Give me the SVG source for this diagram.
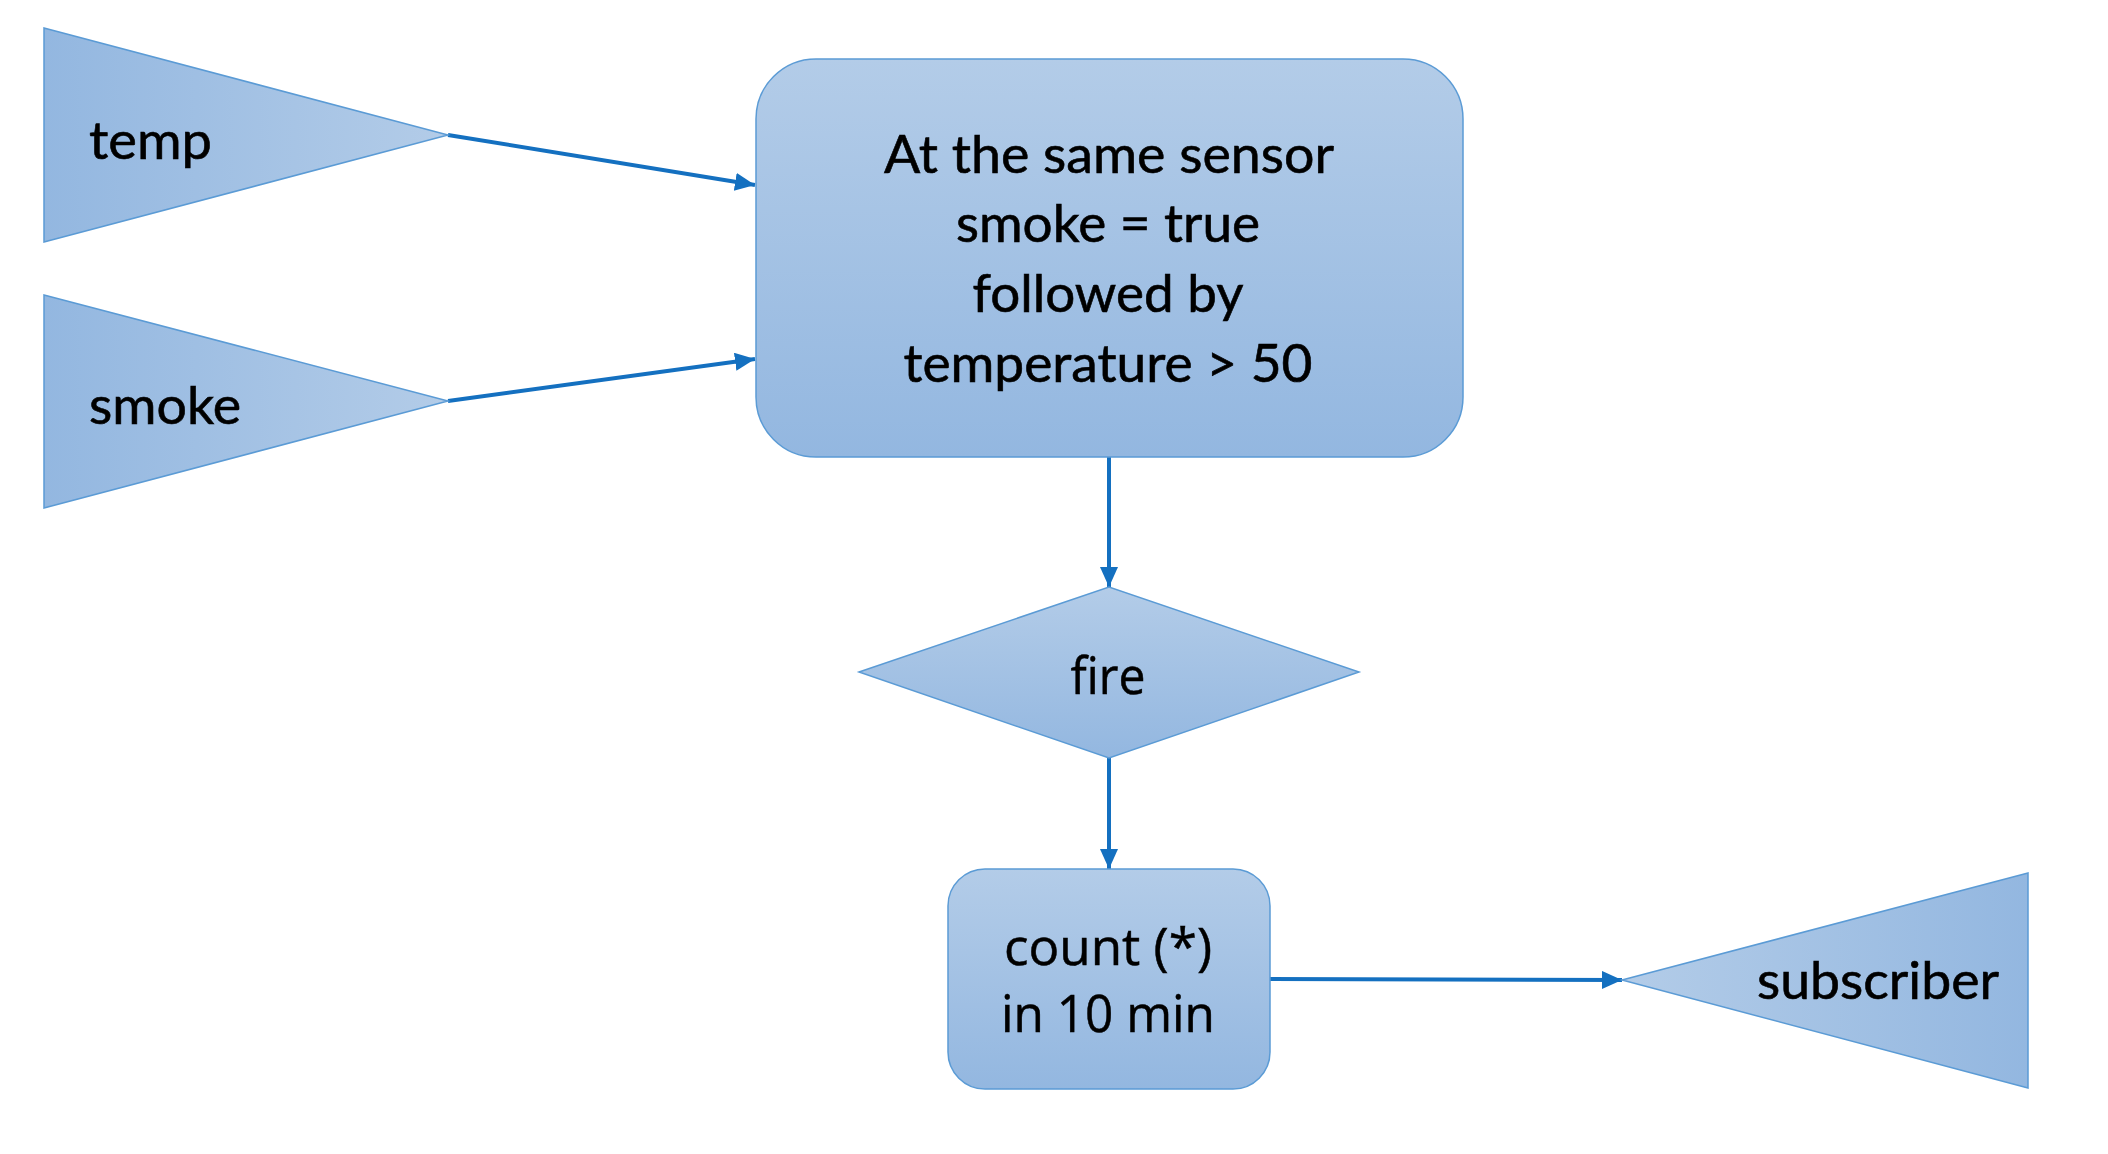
<svg xmlns="http://www.w3.org/2000/svg" width="2108" height="1154" viewBox="0 0 2108 1154">
  <style>
    .shape { stroke: #5b9bd5; stroke-width: 1.5; }
    .cal { font-family: Lato, "Open Sans", sans-serif; font-size: 52px; fill: #000; stroke: #000; stroke-width: 0.6; }
    .seg { font-family: "Open Sans", "Noto Sans", sans-serif; font-size: 52px; fill: #000; stroke: #000; stroke-width: 0.5; }
    .mid { text-anchor: middle; }
    .conn { stroke: #1470c0; stroke-width: 4; fill: none; marker-end: url(#arrow); }
  </style>
  <defs>
    <linearGradient id="gLR" x1="0" y1="0" x2="1" y2="0">
      <stop offset="0" stop-color="#93b7e0"/>
      <stop offset="1" stop-color="#b3cce8"/>
    </linearGradient>
    <linearGradient id="gRL" x1="1" y1="0" x2="0" y2="0">
      <stop offset="0" stop-color="#93b7e0"/>
      <stop offset="1" stop-color="#b3cce8"/>
    </linearGradient>
    <linearGradient id="gTB" x1="0" y1="0" x2="0" y2="1">
      <stop offset="0" stop-color="#b3cce8"/>
      <stop offset="1" stop-color="#93b7e0"/>
    </linearGradient>
    <marker id="arrow" markerUnits="userSpaceOnUse" markerWidth="22" markerHeight="20" refX="20" refY="9" orient="auto">
      <path d="M0,0 L20,9 L0,18 Z" fill="#1470c0"/>
    </marker>
  </defs>

  <g id="connectors">
    <line class="conn" x1="448" y1="135" x2="755" y2="185"/>
    <line class="conn" x1="448" y1="401" x2="755" y2="359"/>
    <line class="conn" x1="1109" y1="457" x2="1109" y2="587"/>
    <line class="conn" x1="1109" y1="758" x2="1109" y2="869"/>
    <line class="conn" x1="1270" y1="979" x2="1622" y2="980"/>
  </g>

  <g id="temp">
    <polygon class="shape" points="44,28 448,135 44,242" fill="url(#gLR)"/>
    <text class="cal" x="89" y="159" textLength="123" lengthAdjust="spacingAndGlyphs">temp</text>
  </g>

  <g id="smoke">
    <polygon class="shape" points="44,295 448,401 44,508" fill="url(#gLR)"/>
    <text class="cal" x="89" y="424" textLength="152" lengthAdjust="spacingAndGlyphs">smoke</text>
  </g>

  <g id="pattern">
    <rect class="shape" x="756" y="59" width="707" height="398" rx="60" ry="60" fill="url(#gTB)"/>
    <text class="cal mid" x="1109" y="173" textLength="450" lengthAdjust="spacingAndGlyphs">At the same sensor</text>
    <text class="cal mid" x="1108" y="242" textLength="304" lengthAdjust="spacingAndGlyphs">smoke = true</text>
    <text class="cal mid" x="1108" y="312" textLength="271" lengthAdjust="spacingAndGlyphs">followed by</text>
    <text class="cal mid" x="1108" y="382" textLength="409" lengthAdjust="spacingAndGlyphs">temperature &gt; 50</text>
  </g>

  <g id="fire">
    <polygon class="shape" points="859,672 1109,587 1359,672 1109,758" fill="url(#gTB)"/>
    <text class="seg mid" x="1108" y="694" textLength="75" lengthAdjust="spacingAndGlyphs">fire</text>
  </g>

  <g id="count">
    <rect class="shape" x="948" y="869" width="322" height="220" rx="37" ry="37" fill="url(#gTB)"/>
    <text class="seg mid" x="1108" y="965" textLength="208" lengthAdjust="spacingAndGlyphs">count (*)</text>
    <text class="seg mid" x="1108" y="1032" textLength="214" lengthAdjust="spacingAndGlyphs">in 10 min</text>
  </g>

  <g id="subscriber">
    <polygon class="shape" points="1622,980 2028,873 2028,1088" fill="url(#gRL)"/>
    <text class="cal" x="1757" y="999" textLength="242" lengthAdjust="spacingAndGlyphs">subscriber</text>
  </g>
</svg>
